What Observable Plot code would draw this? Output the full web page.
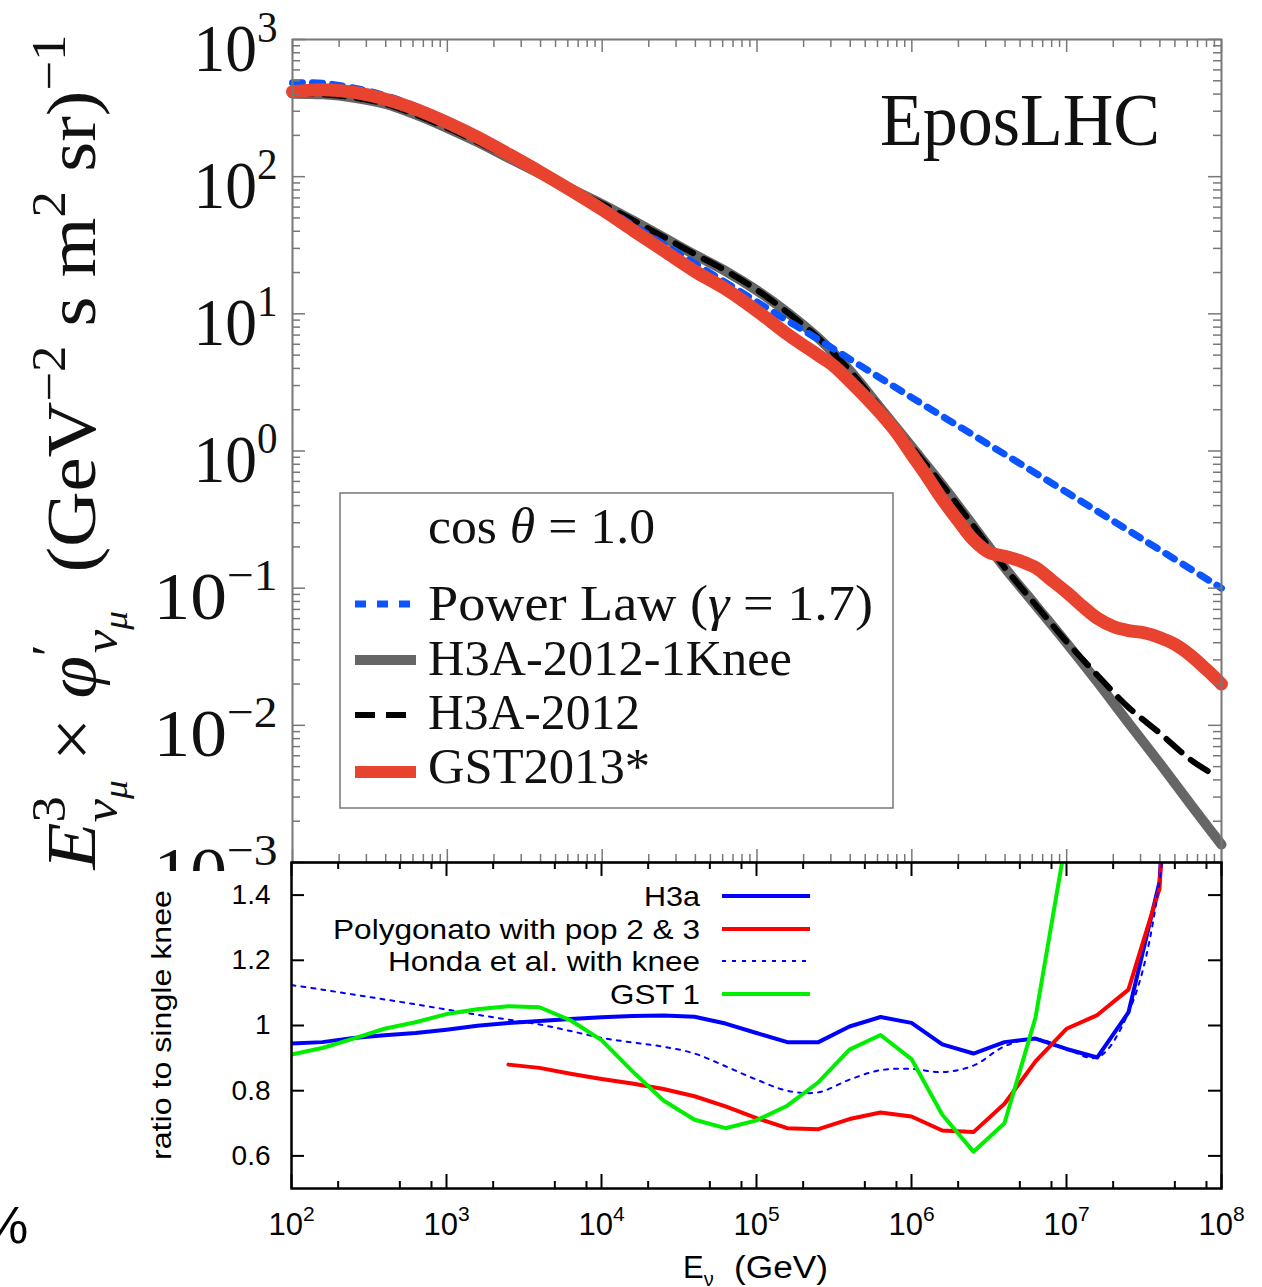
<!DOCTYPE html>
<html><head><meta charset="utf-8">
<script src="https://cdn.jsdelivr.net/npm/d3@7"></script>
<script src="https://cdn.jsdelivr.net/npm/@observablehq/plot@0.6"></script>
<style>
html,body{margin:0;padding:0;background:#fff;}
#wrap{position:relative;width:1262px;height:1287px;overflow:hidden;background:#fff;}
#top{position:absolute;left:0;top:0;}
#mask{position:absolute;left:0;top:871px;width:1262px;height:416px;background:#fff;}
#bot{position:absolute;left:0;top:860px;}
svg{display:block;overflow:visible;}
</style></head><body>
<div id="wrap"><div id="top"></div><div id="mask"></div><div id="bot"></div></div>
<script>
// ================= DATA =================
// Upper panel: E^3 x flux vs neutrino energy E (GeV)
const energyGrid = [1.00e2,1.58e2,2.51e2,3.98e2,6.31e2,1.00e3,1.58e3,2.51e3,3.98e3,6.31e3,1.00e4,1.58e4,2.51e4,3.98e4,6.31e4,1.00e5,1.58e5,2.51e5,3.98e5,6.31e5,1.00e6,1.58e6,2.51e6,3.98e6,6.31e6,1.00e7,1.58e7,2.51e7,3.98e7,6.31e7,1.00e8];

const powerLawEnergy = [1.00e2,1.58e2,2.51e2,3.98e2,6.31e2,1.00e3,1.58e3,2.51e3,3.98e3,6.31e3,1.00e4,3.16e4,1.00e5,3.16e5,1.00e6,3.16e6,1.00e7,3.16e7,1.00e8];
const powerLawFlux   = [484,479,442,389,324,251,191,141,107,79.4,60.3,27.3,12.2,5.50,2.45,1.11,0.50,0.224,0.100];

const h3aKneeFlux = [403,398,376,339,282,226,178,136,105,81.3,63.1,47.9,35.9,26.9,20.4,14.8,10.2,6.61,3.85,2.04,1.07,0.562,0.282,0.141,0.0750,0.0398,0.0207,0.0104,0.00531,0.00266,0.00135];

const h3aEnergy = [1.00e2,1.58e2,2.51e2,3.98e2,6.31e2,1.00e3,1.58e3,2.51e3,3.98e3,6.31e3,1.00e4,1.58e4,2.51e4,3.98e4,6.31e4,1.00e5,1.58e5,2.51e5,3.98e5,6.31e5,1.00e6,1.58e6,2.51e6,3.98e6,6.31e6,1.00e7,1.58e7,2.51e7,3.98e7,6.31e7,8.91e7];
const h3aFlux   = [403,398,376,339,282,226,178,137,106,81.8,63.5,48.2,36.2,27.2,20.6,14.9,10.2,6.61,3.85,2.04,1.07,0.562,0.282,0.141,0.0755,0.0407,0.0232,0.0135,0.00881,0.00562,0.00437];

const gstEnergy = [1.00e2,1.58e2,2.51e2,3.98e2,6.31e2,1.00e3,1.58e3,2.51e3,3.98e3,6.31e3,1.00e4,1.58e4,2.51e4,3.98e4,6.31e4,1.00e5,1.58e5,2.51e5,3.16e5,3.98e5,5.01e5,6.31e5,7.94e5,1.00e6,1.26e6,1.58e6,2.00e6,2.51e6,3.16e6,3.98e6,5.01e6,6.31e6,7.94e6,1.00e7,1.26e7,1.58e7,2.00e7,2.51e7,3.16e7,3.98e7,5.01e7,6.31e7,7.94e7,1.00e8];
const gstFlux   = [417,431,412,367,309,248,193,145,108,79.4,57.5,40.7,28.8,20.4,15.1,10.5,7.08,4.95,4.14,3.22,2.48,1.87,1.37,0.940,0.646,0.441,0.309,0.224,0.182,0.171,0.158,0.141,0.115,0.0933,0.0741,0.0603,0.0525,0.0490,0.0473,0.0437,0.0389,0.0324,0.0257,0.0200];

const fluxTickValues = [1e3,1e2,1e1,1e0,1e-1,1e-2,1e-3];
const fluxTickLabels = ["10^3","10^2","10^1","10^0","10^\u22121","10^\u22122","10^\u22123"];

// Lower panel: ratio to single knee
const ratioEnergy = [1.00e2,1.58e2,2.51e2,3.98e2,6.31e2,1.00e3,1.58e3,2.51e3,3.98e3,6.31e3,1.00e4,1.58e4,2.51e4,3.98e4,6.31e4,1.00e5,1.58e5,2.51e5,3.98e5,6.31e5,1.00e6,1.58e6,2.51e6,3.98e6,6.31e6,1.00e7,1.58e7,2.51e7,3.98e7,6.31e7];
const ratioH3a   = [0.945,0.949,0.962,0.970,0.977,0.987,0.999,1.008,1.014,1.020,1.025,1.029,1.031,1.027,1.006,0.977,0.949,0.949,0.997,1.026,1.008,0.942,0.914,0.949,0.960,0.928,0.902,1.040,1.44,3.0];
const ratioHonda = [1.124,1.110,1.095,1.080,1.065,1.049,1.033,1.018,1.003,0.983,0.962,0.948,0.935,0.914,0.875,0.834,0.800,0.795,0.834,0.863,0.867,0.857,0.877,0.936,0.960,0.928,0.902,1.040,1.44,3.0];
const polyEnergy = [2.51e3,3.98e3,6.31e3,1.00e4,1.58e4,2.51e4,3.98e4,6.31e4,1.00e5,1.58e5,2.51e5,3.98e5,6.31e5,1.00e6,1.58e6,2.51e6,3.98e6,6.31e6,1.00e7,1.58e7,2.51e7,3.98e7,6.31e7];
const ratioPoly  = [0.880,0.870,0.852,0.836,0.822,0.805,0.783,0.752,0.716,0.685,0.682,0.713,0.733,0.721,0.678,0.673,0.760,0.890,0.990,1.032,1.110,1.420,3.0];
const gst1Energy = [1.00e2,1.58e2,2.51e2,3.98e2,6.31e2,1.00e3,1.58e3,2.51e3,3.98e3,6.31e3,1.00e4,1.58e4,2.51e4,3.98e4,6.31e4,1.00e5,1.58e5,2.51e5,3.98e5,6.31e5,1.00e6,1.58e6,2.51e6,3.98e6,6.31e6,1.00e7];
const ratioGst1  = [0.911,0.931,0.960,0.990,1.010,1.035,1.050,1.059,1.056,1.016,0.955,0.860,0.770,0.711,0.685,0.709,0.754,0.826,0.926,0.971,0.897,0.726,0.613,0.700,1.024,1.58];

const ratioTickValues = [0.6,0.8,1.0,1.2,1.4];
const ratioTickLabels = ["0.6","0.8","1","1.2","1.4"];
const energyTickValues = [1e2,1e3,1e4,1e5,1e6,1e7,1e8];
const energyTickLabels = ["10^2","10^3","10^4","10^5","10^6","10^7","10^8"];

const topLegend = ["Power Law", "H3A-2012-1Knee", "H3A-2012", "GST2013*"];
const botLegend = ["H3a", "Polygonato with pop 2 & 3", "Honda et al. with knee", "GST 1"];

// ================= HELPERS =================
const zip = (xs, ys) => xs.map((x, i) => ({x, y: ys[i]}));
const NS = "http://www.w3.org/2000/svg";
function supify(svg, expSize, expDy, lenFn) {
  svg.querySelectorAll("text").forEach(t => {
    const m = t.textContent.match(/^(.*?)\^(.*)$/);
    if (!m) return;
    t.textContent = "";
    const a = document.createElementNS(NS, "tspan"); a.textContent = m[1]; t.appendChild(a);
    const b = document.createElementNS(NS, "tspan"); b.textContent = m[2];
    b.setAttribute("font-size", expSize); b.setAttribute("dy", expDy); t.appendChild(b);
    if (lenFn) { t.setAttribute("textLength", lenFn(m[2])); t.setAttribute("lengthAdjust", "spacingAndGlyphs"); }
  });
}
function richText(parent, attrs, parts) {
  const t = parent.append("text").attr("text-anchor", "start");
  for (const k in attrs) t.attr(k, attrs[k]);
  for (const [s, o = {}] of parts) {
    const sp = t.append("tspan").text(s);
    if (o.size) sp.attr("font-size", o.size);
    if (o.style) sp.attr("font-style", o.style);
    if (o.dx != null) sp.attr("dx", o.dx);
    if (o.dy != null) sp.attr("dy", o.dy);
    if (o.x != null) sp.attr("x", o.x);
  }
  return t;
}
const decadeMinor = (lo, hi, ks) => { const r = []; for (let e = lo; e < hi; e++) for (const k of ks) r.push(k * 10 ** e); return r; };

// ================= TOP PANEL =================
const W = 1262;
const T = {h: 870, ml: 292, mr: 41, mt: 39, mb: 8};
const tfw = W - T.ml - T.mr, tfh = T.h - T.mt - T.mb;
const tickC = "#777";
const topMinorX = decadeMinor(2, 8, [2,3,4,5,6,7,8,9]);
const topMinorY = decadeMinor(-3, 3, [2,3,4,5,6,7,8,9]);
const MAJ = 13, MIN = 8;

const topPlot = Plot.plot({
  width: W, height: T.h,
  marginLeft: T.ml, marginRight: T.mr, marginTop: T.mt, marginBottom: T.mb,
  x: {type: "log", domain: [1e2, 1e8], axis: null},
  y: {type: "log", domain: [1e-3, 1e3], axis: null},
  style: {background: "transparent", overflow: "visible"},
  marks: [
    Plot.line(zip(energyGrid, h3aKneeFlux), {x: "x", y: "y", stroke: "#666", strokeWidth: 10, curve: "catmull-rom"}),
    Plot.line(zip(h3aEnergy, h3aFlux), {x: "x", y: "y", stroke: "#000", strokeWidth: 6, strokeDasharray: "20,12", curve: "catmull-rom"}),
    Plot.line(zip(powerLawEnergy, powerLawFlux), {x: "x", y: "y", stroke: "#0a55ff", strokeWidth: 7, strokeDasharray: "10,10", curve: "catmull-rom"}),
    Plot.line(zip(gstEnergy, gstFlux), {x: "x", y: "y", stroke: "#e8432f", strokeWidth: 13, curve: "catmull-rom"}),
    // ticks (inward)
    Plot.ruleX(energyTickValues, {x: d => d, insetBottom: tfh - MAJ, stroke: tickC, strokeWidth: 1.5}),
    Plot.ruleX(topMinorX, {x: d => d, insetBottom: tfh - MIN, stroke: tickC, strokeWidth: 1.5}),
    Plot.ruleX(energyTickValues, {x: d => d, insetTop: tfh - MAJ, stroke: tickC, strokeWidth: 1.5}),
    Plot.ruleX(topMinorX, {x: d => d, insetTop: tfh - MIN, stroke: tickC, strokeWidth: 1.5}),
    Plot.ruleY(fluxTickValues, {y: d => d, insetRight: tfw - MAJ, stroke: tickC, strokeWidth: 1.5}),
    Plot.ruleY(topMinorY, {y: d => d, insetRight: tfw - MIN, stroke: tickC, strokeWidth: 1.5}),
    Plot.ruleY(fluxTickValues, {y: d => d, insetLeft: tfw - MAJ, stroke: tickC, strokeWidth: 1.5}),
    Plot.ruleY(topMinorY, {y: d => d, insetLeft: tfw - MIN, stroke: tickC, strokeWidth: 1.5}),
    Plot.frame({stroke: tickC, strokeWidth: 2}),
    Plot.text(fluxTickValues, {y: d => d, text: (d, i) => fluxTickLabels[i], frameAnchor: "left", textAnchor: "end",
      lineAnchor: "bottom", dx: -15, dy: 31, fontFamily: "Liberation Serif", fontSize: 68, fill: "#111"})
  ]
});
supify(topPlot, 44, -29, e => e.startsWith("\u2212") ? 124 : 84);
document.getElementById("top").appendChild(topPlot);

{
  const s = d3.select(topPlot);
  // y-axis title
  richText(s, {transform: "translate(95,452) rotate(-90)", "text-anchor": "middle", "font-family": "Liberation Serif",
      "font-size": 70, fill: "#111", textLength: 835, lengthAdjust: "spacingAndGlyphs"}, [
    ["E", {style: "italic"}],
    ["3", {size: 48, dy: -30}],
    ["\u03bd", {size: 48, style: "italic", dx: -24, dy: 52}],
    ["\u03bc", {size: 34, style: "italic", dy: 10}],
    ["\u00a0\u00d7\u00a0", {dy: -32}],
    ["\u03c6", {style: "italic"}],
    ["\u2032", {size: 48, dy: -30}],
    ["\u03bd", {size: 48, style: "italic", dx: -8, dy: 52}],
    ["\u03bc", {size: 34, style: "italic", dy: 10}],
    ["\u00a0\u00a0(GeV", {dy: -32}],
    ["\u22122", {size: 48, dy: -30}],
    ["\u00a0s\u00a0m", {dy: 30}],
    ["2", {size: 48, dy: -30}],
    ["\u00a0sr)", {dy: 30}],
    ["\u22121", {size: 48, dy: -30}]
  ]);
  // model name
  s.append("text").attr("x", 880).attr("y", 145).attr("text-anchor", "start").attr("font-family", "Liberation Serif").attr("font-size", 75)
    .attr("fill", "#111").attr("textLength", 280).attr("lengthAdjust", "spacingAndGlyphs").text("EposLHC");
  // legend
  const lg = s.append("g");
  lg.append("rect").attr("x", 340).attr("y", 493).attr("width", 553).attr("height", 315)
    .attr("fill", "#fff").attr("stroke", "#777").attr("stroke-width", 1.5);
  const lf = {"font-family": "Liberation Serif", "font-size": 50, fill: "#111", lengthAdjust: "spacingAndGlyphs"};
  richText(lg, {...lf, x: 428, y: 543, textLength: 227}, [["cos\u00a0"], ["\u03b8", {style: "italic"}], ["\u00a0=\u00a01.0"]]);
  richText(lg, {...lf, x: 428, y: 620, textLength: 445}, [[topLegend[0] + "\u00a0("], ["\u03b3", {style: "italic"}], ["\u00a0=\u00a01.7)"]]);
  richText(lg, {...lf, x: 428, y: 675, textLength: 364}, [[topLegend[1]]]);
  richText(lg, {...lf, x: 428, y: 729, textLength: 212}, [[topLegend[2]]]);
  richText(lg, {...lf, x: 428, y: 783, textLength: 222}, [[topLegend[3]]]);
  lg.append("line").attr("x1", 355).attr("x2", 410).attr("y1", 604).attr("y2", 604).attr("stroke", "#0a55ff").attr("stroke-width", 7).attr("stroke-dasharray", "11,11");
  lg.append("line").attr("x1", 355).attr("x2", 416).attr("y1", 660).attr("y2", 660).attr("stroke", "#666").attr("stroke-width", 10);
  lg.append("line").attr("x1", 355).attr("x2", 406).attr("y1", 715).attr("y2", 715).attr("stroke", "#000").attr("stroke-width", 6).attr("stroke-dasharray", "20,11");
  lg.append("line").attr("x1", 355).attr("x2", 416).attr("y1", 772).attr("y2", 772).attr("stroke", "#e8432f").attr("stroke-width", 12);
}

// ================= BOTTOM PANEL =================
const B = {h: 427, ml: 291, mr: 41, mt: 2, mb: 99};
const bfw = W - B.ml - B.mr, bfh = B.h - B.mt - B.mb;
const botMinorX = decadeMinor(2, 8, [2, 5, 8]);
const sans = "Liberation Sans";
const botPlot = Plot.plot({
  width: W, height: B.h,
  marginLeft: B.ml, marginRight: B.mr, marginTop: B.mt, marginBottom: B.mb,
  x: {type: "log", domain: [1e2, 1e8], axis: null},
  y: {domain: [0.5, 1.5], axis: null},
  style: {background: "transparent", overflow: "visible"},
  marks: [
    Plot.line(zip(ratioEnergy, ratioH3a), {x: "x", y: "y", stroke: "#0000ff", strokeWidth: 4, clip: true}),
    Plot.line(zip(polyEnergy, ratioPoly), {x: "x", y: "y", stroke: "#ff0000", strokeWidth: 4, clip: true}),
    Plot.line(zip(ratioEnergy, ratioHonda), {x: "x", y: "y", stroke: "#0000ff", strokeWidth: 2, strokeDasharray: "4,6", curve: "catmull-rom", clip: true}),
    Plot.line(zip(gst1Energy, ratioGst1), {x: "x", y: "y", stroke: "#00ee00", strokeWidth: 4, clip: true}),
    Plot.ruleX(energyTickValues, {x: d => d, insetBottom: bfh - 14, stroke: "#000", strokeWidth: 2}),
    Plot.ruleX(botMinorX, {x: d => d, insetBottom: bfh - 7, stroke: "#000", strokeWidth: 2}),
    Plot.ruleX(energyTickValues, {x: d => d, insetTop: bfh - 14, stroke: "#000", strokeWidth: 2}),
    Plot.ruleX(botMinorX, {x: d => d, insetTop: bfh - 7, stroke: "#000", strokeWidth: 2}),
    Plot.ruleY(ratioTickValues, {y: d => d, insetRight: bfw - 13, stroke: "#000", strokeWidth: 2}),
    Plot.ruleY(ratioTickValues, {y: d => d, insetLeft: bfw - 13, stroke: "#000", strokeWidth: 2}),
    Plot.frame({stroke: "#000", strokeWidth: 2.5}),
    Plot.text(ratioTickValues, {y: d => d, text: (d, i) => ratioTickLabels[i], frameAnchor: "left", textAnchor: "end",
      dx: -21, fontFamily: sans, fontSize: 28, fill: "#000"}),
    Plot.text(energyTickValues, {x: d => d, text: (d, i) => energyTickLabels[i], frameAnchor: "bottom", textAnchor: "middle",
      lineAnchor: "bottom", dy: 46, fontFamily: sans, fontSize: 31, fill: "#000"})
  ]
});
supify(botPlot, 21, -14, null);
document.getElementById("bot").appendChild(botPlot);

{
  const s = d3.select(botPlot);
  const off = 860;
  // legend
  const rows = [896, 929, 961, 994].map(v => v - off);
  const widths = [56, 367, 312, 90];
  const cols = ["#0000ff", "#ff0000", "#0000ff", "#00ee00"];
  botLegend.forEach((name, i) => {
    s.append("text").attr("x", 700).attr("y", rows[i]).attr("dy", "0.35em").attr("text-anchor", "end")
      .attr("font-family", sans).attr("font-size", 28).attr("fill", "#000")
      .attr("textLength", widths[i]).attr("lengthAdjust", "spacingAndGlyphs").text(name);
    s.append("line").attr("x1", 722).attr("x2", 810).attr("y1", rows[i]).attr("y2", rows[i])
      .attr("stroke", cols[i]).attr("stroke-width", i === 2 ? 2 : 4).attr("stroke-dasharray", i === 2 ? "4,6" : null);
  });
  // y title
  s.append("text").attr("transform", `translate(171,${1025 - off}) rotate(-90)`).attr("text-anchor", "middle")
    .attr("font-family", sans).attr("font-size", 28).attr("fill", "#000")
    .attr("textLength", 270).attr("lengthAdjust", "spacingAndGlyphs").text("ratio to single knee");
  // x title
  richText(s, {x: 683, y: 1278 - off, "font-family": sans, "font-size": 31, fill: "#000"}, [
    ["E"], ["\u03bd", {size: 20, dy: 8}]
  ]);
  s.append("text").attr("x", 734).attr("y", 1278 - off).attr("text-anchor", "start").attr("font-family", sans)
    .attr("font-size", 31).attr("fill", "#000").attr("textLength", 94).attr("lengthAdjust", "spacingAndGlyphs").text("(GeV)");
  // clipped glyph at left edge
  s.append("text").attr("x", -18).attr("y", 1243 - off).attr("text-anchor", "start").attr("font-family", sans).attr("font-size", 52).attr("fill", "#000").text("%");
}
</script></body></html>
